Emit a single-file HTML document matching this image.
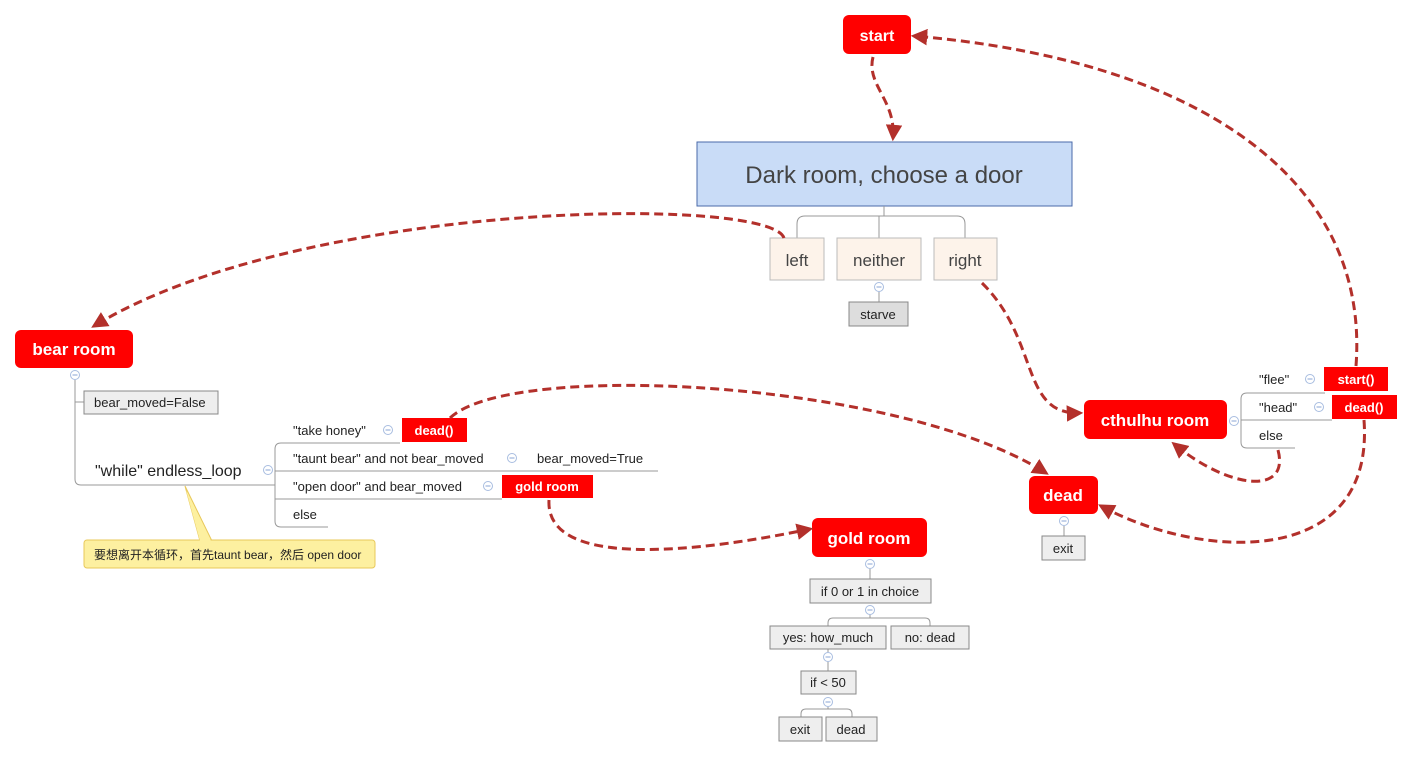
<!DOCTYPE html>
<html><head><meta charset="utf-8"><style>
body{margin:0;background:#fff}
svg{display:block;font-family:"Liberation Sans","Noto Sans CJK SC",sans-serif}
.r{fill:#f00}
.rt{fill:#fff;font-weight:bold;text-anchor:middle}
.g{fill:#eee;stroke:#888;stroke-width:1}
.t{fill:#222;font-size:13px}
.tc{fill:#222;font-size:13px;text-anchor:middle}
.ln{fill:none;stroke:#999;stroke-width:1}
.a{fill:none;stroke:#b3302b;stroke-width:3;stroke-dasharray:9 5;marker-end:url(#ah)}
</style></head><body>
<svg width="1413" height="758" viewBox="0 0 1413 758">
<defs>
<marker id="ah" viewBox="0 0 10 10" refX="8" refY="5" markerWidth="5.5" markerHeight="5.5" orient="auto"><path d="M0,0 L10,5 L0,10 z" fill="#b3302b"/></marker>
<g id="m"><circle cx="0" cy="0" r="4.5" fill="#fff" stroke="#a8bde0"/><path d="M-2.5,0 H2.5" stroke="#8aa4d6" stroke-width="1"/></g>
</defs>
<!-- start -->
<rect class="r" x="843" y="15" width="68" height="39" rx="6"/>
<text class="rt" x="877" y="41" font-size="16">start</text>
<!-- dark room -->
<rect x="697" y="142" width="375" height="64" fill="#c9dcf7" stroke="#4a6aa8"/>
<text x="884" y="183" font-size="24" fill="#444" text-anchor="middle">Dark room, choose a door</text>
<path class="ln" d="M884,206 V216 M797,238 V224 Q797,216 805,216 H957 Q965,216 965,224 V238 M879,216 V238"/>
<rect x="770" y="238" width="54" height="42" fill="#fdf3ea" stroke="#bbb"/>
<rect x="837" y="238" width="84" height="42" fill="#fdf3ea" stroke="#bbb"/>
<rect x="934" y="238" width="63" height="42" fill="#fdf3ea" stroke="#bbb"/>
<text x="797" y="266" font-size="17" fill="#444" text-anchor="middle">left</text>
<text x="879" y="266" font-size="17" fill="#444" text-anchor="middle">neither</text>
<text x="965" y="266" font-size="17" fill="#444" text-anchor="middle">right</text>
<path class="ln" d="M879,292 V302"/>
<use href="#m" x="879" y="287"/>
<rect x="849" y="302" width="59" height="24" fill="#ddd" stroke="#888"/>
<text class="tc" x="878" y="319">starve</text>
<!-- bear room -->
<rect class="r" x="15" y="330" width="118" height="38" rx="6"/>
<text class="rt" x="74" y="355" font-size="17">bear room</text>
<use href="#m" x="75" y="375"/>
<path class="ln" d="M75,380 V479 Q75,485 81,485 H275 M75,402 H84"/>
<rect class="g" x="84" y="391" width="134" height="23"/>
<text class="t" x="94" y="407">bear_moved=False</text>
<text x="95" y="476" font-size="16" fill="#222">"while" endless_loop</text>
<use href="#m" x="268" y="470"/>
<path class="ln" d="M400,443 H281 Q275,443 275,449 V521 Q275,527 281,527 H328 M275,471 H658 M275,499 H502"/>
<text class="t" x="293" y="435">"take honey"</text>
<use href="#m" x="388" y="430"/>
<rect class="r" x="402" y="418" width="65" height="24"/>
<text class="rt" x="434" y="435" font-size="13">dead()</text>
<text class="t" x="293" y="463">"taunt bear" and not bear_moved</text>
<use href="#m" x="512" y="458"/>
<text class="t" x="537" y="463">bear_moved=True</text>
<text class="t" x="293" y="491">"open door" and bear_moved</text>
<use href="#m" x="488" y="486"/>
<rect class="r" x="502" y="475" width="91" height="23"/>
<text class="rt" x="547" y="491" font-size="13">gold room</text>
<text class="t" x="293" y="519">else</text>
<!-- note -->
<path d="M185,486 L212,541 L200,541 Z" fill="#fdf0a0" stroke="#e8c85a"/>
<rect x="84" y="540" width="291" height="28" rx="3" fill="#fdf0a0" stroke="#e8c85a"/>
<path d="M186,490 L200,541 L211,541" fill="#fdf0a0"/>
<text x="94" y="559" font-size="12" fill="#222">要想离开本循环，首先taunt bear，然后 open door</text>
<!-- cthulhu -->
<rect class="r" x="1084" y="400" width="143" height="39" rx="6"/>
<text class="rt" x="1155" y="426" font-size="17">cthulhu room</text>
<use href="#m" x="1234" y="421"/>
<path class="ln" d="M1325,393 H1247 Q1241,393 1241,399 V442 Q1241,448 1247,448 H1295 M1241,420 H1332"/>
<text class="t" x="1259" y="384">"flee"</text>
<use href="#m" x="1310" y="379"/>
<rect class="r" x="1324" y="367" width="64" height="24"/>
<text class="rt" x="1356" y="384" font-size="13">start()</text>
<text class="t" x="1259" y="412">"head"</text>
<use href="#m" x="1319" y="407"/>
<rect class="r" x="1332" y="395" width="65" height="24"/>
<text class="rt" x="1364" y="412" font-size="13">dead()</text>
<text class="t" x="1259" y="440">else</text>
<!-- dead -->
<rect class="r" x="1029" y="476" width="69" height="38" rx="6"/>
<text class="rt" x="1063" y="501" font-size="17">dead</text>
<use href="#m" x="1064" y="521"/>
<path class="ln" d="M1064,526 V536"/>
<rect class="g" x="1042" y="536" width="43" height="24"/>
<text class="tc" x="1063" y="553">exit</text>
<!-- gold room -->
<rect class="r" x="812" y="518" width="115" height="39" rx="6"/>
<text class="rt" x="869" y="544" font-size="17">gold room</text>
<use href="#m" x="870" y="564"/>
<path class="ln" d="M870,569 V579 M870,615 V618 M828,626 V623 Q828,618 833,618 H925 Q930,618 930,623 V626 M828,649 V652 M828,662 V671 M828,707 V709 M801,717 V714 Q801,709 806,709 H847 Q852,709 852,714 V717"/>
<rect class="g" x="810" y="579" width="121" height="24"/>
<text class="tc" x="870" y="596">if 0 or 1 in choice</text>
<use href="#m" x="870" y="610"/>
<rect class="g" x="770" y="626" width="116" height="23"/>
<text class="tc" x="828" y="642">yes:  how_much</text>
<rect class="g" x="891" y="626" width="78" height="23"/>
<text class="tc" x="930" y="642">no:   dead</text>
<use href="#m" x="828" y="657"/>
<rect class="g" x="801" y="671" width="55" height="23"/>
<text class="tc" x="828" y="687">if &lt; 50</text>
<use href="#m" x="828" y="702"/>
<rect class="g" x="779" y="717" width="43" height="24"/>
<text class="tc" x="800" y="734">exit</text>
<rect class="g" x="826" y="717" width="51" height="24"/>
<text class="tc" x="851" y="734">dead</text>
<!-- arrows -->
<path class="a" d="M873,57 C866,85 896,100 893,138"/>
<path class="a" d="M784,238 C770,195 300,200 94,326"/>
<path class="a" d="M982,283 C1040,340 1020,415 1080,413"/>
<path class="a" d="M450,418 C510,360 900,380 1046,473"/>
<path class="a" d="M549,500 C545,570 700,552 810,529"/>
<path class="a" d="M1356,366 C1370,180 1200,60 914,36"/>
<path class="a" d="M1364,420 C1375,570 1200,560 1101,506"/>
<path class="a" d="M1278,450 C1290,495 1230,490 1174,444"/>
</svg>
</body></html>
